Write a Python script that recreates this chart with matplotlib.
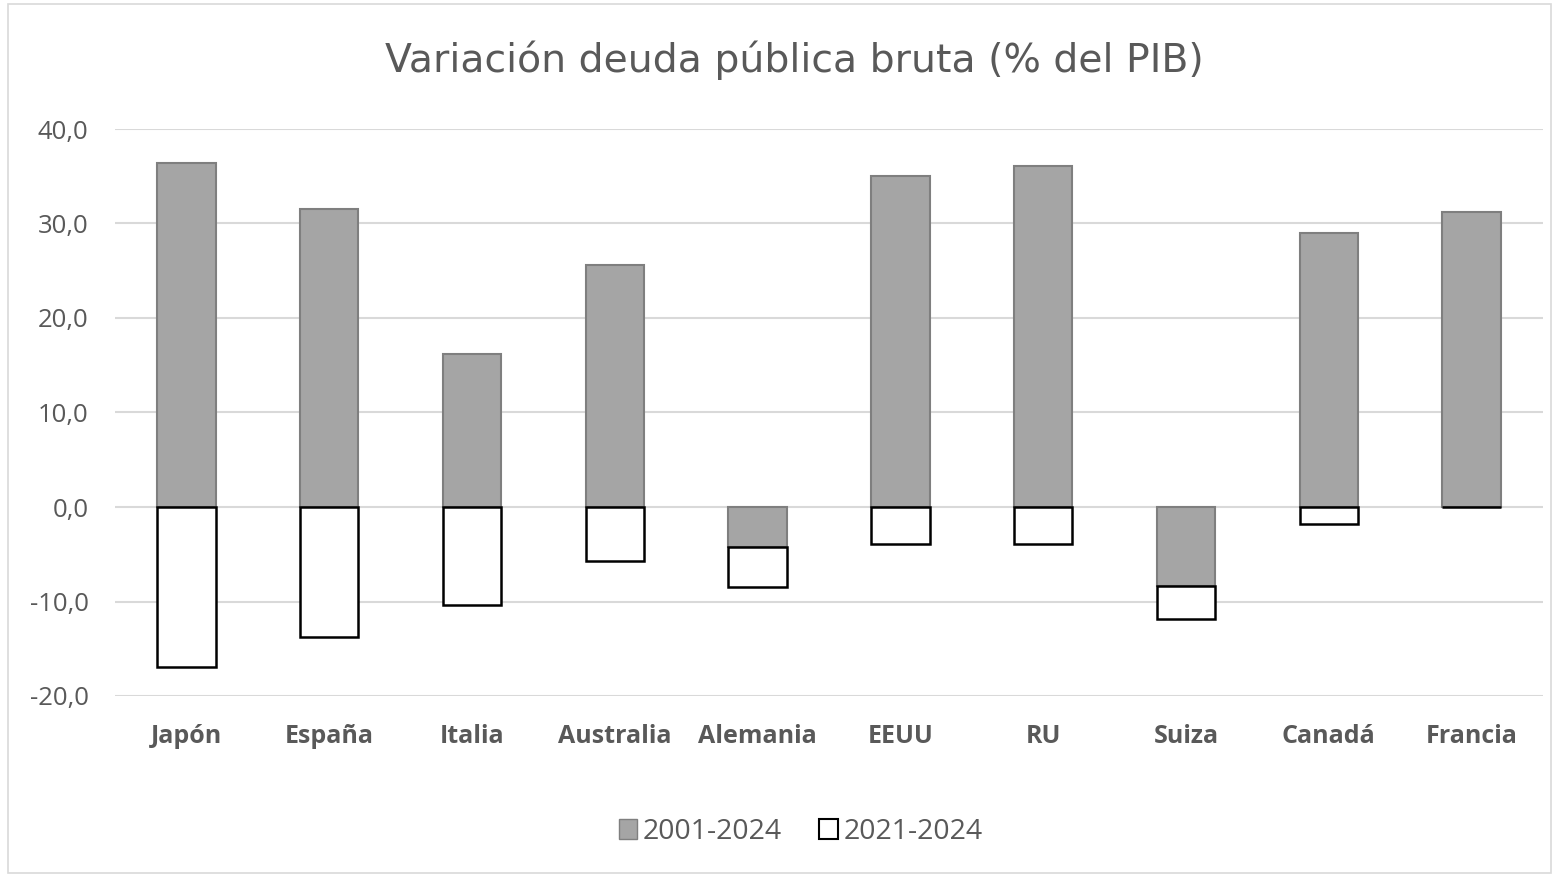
import matplotlib
matplotlib.use("Agg")
import matplotlib.pyplot as plt
from matplotlib.patches import Rectangle, Patch
from matplotlib.ticker import FuncFormatter
import numpy as np

categories = ["Japón", "España", "Italia", "Australia", "Alemania", "EEUU", "RU", "Suiza", "Canadá", "Francia"]
v_2001_2024 = [36.4, 31.5, 16.2, 25.6, -4.2, 35.0, 36.1, -8.4, 29.0, 31.2]
v_2021_2024 = [-16.9, -13.8, -10.4, -5.7, -4.3, -3.9, -3.9, -3.4, -1.8, 0.0]
series_names = ["2001-2024", "2021-2024"]

plt.rcParams['font.family'] = ['Open Sans', 'DejaVu Sans']

fig = plt.figure(figsize=(15.59, 8.75), dpi=100)
fig.patches.append(Rectangle((8/1559, 2/875), 1-16/1559, 1-6/875, transform=fig.transFigure,
                             fill=False, edgecolor='#d9d9d9', linewidth=1.2))
ax = fig.add_axes([115/1559, 1-696/875, (1543-115)/1559, (696-129)/875])

x = np.arange(len(categories))
w = 0.41
ax.bar(x, v_2001_2024, w, color='#a5a5a5', edgecolor='#7f7f7f', linewidth=1.5, zorder=3)
bottoms = [min(v, 0) for v in v_2001_2024]
ax.bar(x, v_2021_2024, w, bottom=bottoms, color='white', edgecolor='black', linewidth=1.8, zorder=3)

ax.set_xlim(-0.5, len(categories) - 0.5)
ax.set_ylim(-20, 40)
ax.set_yticks(np.arange(-20, 41, 10))
ax.yaxis.set_major_formatter(FuncFormatter(lambda v, p: f"{v:.1f}".replace('.', ',')))
ax.grid(axis='y', color='#d9d9d9', linewidth=1.5, zorder=0)
for s in ax.spines.values():
    s.set_visible(False)
ax.tick_params(axis='both', length=0)
ax.tick_params(axis='y', labelsize=18.5, labelcolor='#595959', pad=19)
ax.set_xticks(x)
ax.set_xticklabels(categories, fontsize=18, fontweight='bold', color='#595959')
ax.tick_params(axis='x', pad=20.5)

fig.text(794/1559, 1-60/875, "Variación deuda pública bruta (% del PIB)", ha='center', va='center',
         fontsize=28.4, color='#595959', family='DejaVu Sans')

handles = [Patch(facecolor='#a5a5a5', edgecolor='#7f7f7f', label=series_names[0]),
           Patch(facecolor='white', edgecolor='black', linewidth=1.5, label=series_names[1])]
leg = fig.legend(handles=handles, loc='center', bbox_to_anchor=(0.5135, 1-832/875), ncol=2, frameon=False,
                 fontsize=20.5, handlelength=0.65, handleheight=0.65, handletextpad=0.2, columnspacing=1.3)
for t in leg.get_texts():
    t.set_color('#595959')

fig.savefig("out.png", dpi=100)
